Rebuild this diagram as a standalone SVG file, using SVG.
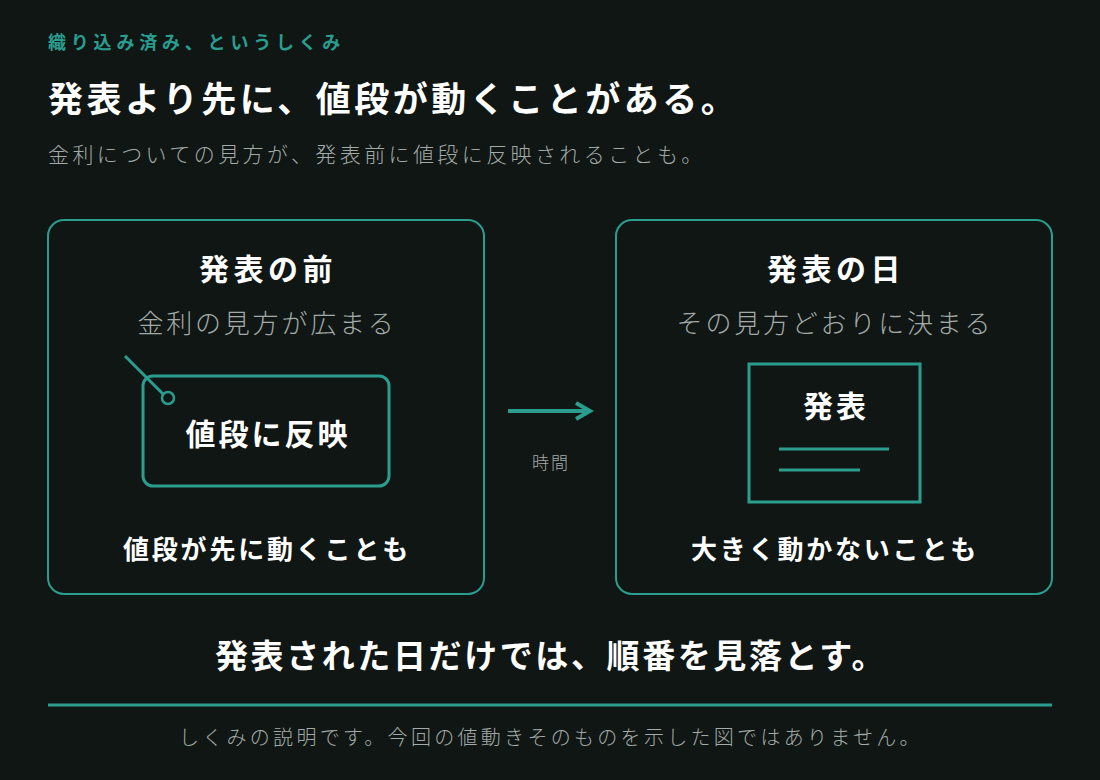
<svg xmlns="http://www.w3.org/2000/svg" width="1100" height="780" viewBox="0 0 1100 780">
<style>
text{font-family:"Noto Sans CJK JP","Noto Sans",sans-serif;}
.b{font-weight:700;fill:#ffffff;}
.g{fill:#a3aba8;font-weight:300;}
.box{fill:none;stroke:#2a9d8f;stroke-width:2;}
.ln{stroke:#2a9d8f;stroke-width:3;fill:none;}
</style>
<defs><marker id="ah" viewBox="0 0 10 10" refX="8" refY="5" markerWidth="5" markerHeight="5" orient="auto"><path d="M1 1L8 5L1 9" fill="none" stroke="#2a9d8f" stroke-width="2"/></marker></defs>
<rect width="1100" height="780" fill="#101614"/>
<text x="48" y="49" font-size="18" font-weight="700" fill="#2a9d8f" letter-spacing="4.8">織り込み済み、というしくみ</text>
<text x="48" y="112" font-size="35" class="b" letter-spacing="3.5">発表より先に、値段が動くことがある。</text>
<text x="48" y="162" font-size="21" class="g" letter-spacing="3.4">金利についての見方が、発表前に値段に反映されることも。</text>
<g id="before">
<rect class="box" x="48" y="220" width="436" height="374" rx="16"/>
<text x="268" y="280" font-size="30" class="b" text-anchor="middle" letter-spacing="4.5">発表の前</text>
<text x="267" y="333" font-size="26" class="g" text-anchor="middle" letter-spacing="2.8">金利の見方が広まる</text>
<rect x="143" y="376" width="246" height="110" rx="10" fill="none" stroke="#2a9d8f" stroke-width="3"/>
<line x1="125" y1="356" x2="163" y2="394" class="ln"/>
<circle cx="168" cy="398" r="6" fill="#101614" stroke="#2a9d8f" stroke-width="2.5"/>
<text x="268" y="445" font-size="30" class="b" text-anchor="middle" letter-spacing="3">値段に反映</text>
<text x="267" y="559" font-size="26" class="b" text-anchor="middle" letter-spacing="2.8">値段が先に動くことも</text>
</g>
<g id="after">
<rect class="box" x="616" y="220" width="436" height="374" rx="16"/>
<text x="836" y="280" font-size="30" class="b" text-anchor="middle" letter-spacing="4.5">発表の日</text>
<text x="835" y="333" font-size="26" class="g" text-anchor="middle" letter-spacing="2.8">その見方どおりに決まる</text>
<rect x="749" y="364" width="171" height="138" fill="none" stroke="#2a9d8f" stroke-width="3"/>
<text x="836" y="417" font-size="30" class="b" text-anchor="middle" letter-spacing="3">発表</text>
<line x1="779" y1="449" x2="889" y2="449" class="ln"/>
<line x1="779" y1="470" x2="860" y2="470" class="ln"/>
<text x="835" y="559" font-size="26" class="b" text-anchor="middle" letter-spacing="2.8">大きく動かないことも</text>
</g>
<g id="connectors">
<line x1="508" y1="411" x2="590" y2="411" stroke="#2a9d8f" stroke-width="4" marker-end="url(#ah)"/>
<text x="551" y="469" font-size="17" class="g" text-anchor="middle" letter-spacing="2">時間</text>
</g>
<text x="551" y="668" font-size="33" class="b" text-anchor="middle" letter-spacing="2.6">発表された日だけでは、順番を見落とす。</text>
<line x1="48" y1="705" x2="1052" y2="705" stroke="#2a9d8f" stroke-width="3"/>
<text x="551" y="745" font-size="20" class="g" text-anchor="middle" letter-spacing="3.3">しくみの説明です。今回の値動きそのものを示した図ではありません。</text>
</svg>
